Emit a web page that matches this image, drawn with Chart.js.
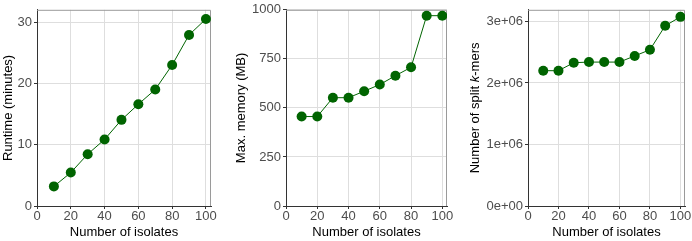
<!DOCTYPE html>
<html>
<head>
<meta charset="utf-8">
<script src="https://cdn.jsdelivr.net/npm/chart.js@4.4.1/dist/chart.umd.min.js"></script>
<style>
  html, body { margin: 0; padding: 0; background: #fff; }
  #wrap { position: relative; width: 692px; height: 241px; }
  canvas { position: absolute; top: 0; }
</style>
</head>
<body>
<div id="wrap">
  <canvas id="runtimeChart" width="230" height="241" style="left:0px"></canvas>
  <canvas id="memoryChart" width="230" height="241" style="left:230px"></canvas>
  <canvas id="kmerChart" width="232" height="241" style="left:460px"></canvas>
</div>
<script>
// Du lieu doc tu hinh
const isolates = [10, 20, 30, 40, 50, 60, 70, 80, 90, 100];
const runtimeMinutes = [3.2, 5.45, 8.45, 10.85, 14.05, 16.6, 19.0, 23.0, 27.9, 30.5];
const memoryMB = [456, 456, 552, 552, 585, 619, 664, 707, 970, 970];
const splitKmers = [2.2e6, 2.2e6, 2.33e6, 2.34e6, 2.34e6, 2.34e6, 2.44e6, 2.54e6, 2.93e6, 3.075e6];

const xTicks = [0, 20, 40, 60, 80, 100];
const runtimeTicks = [0, 10, 20, 30];
const memoryTicks = [0, 250, 500, 750, 1000];
const kmerTicks = [0, 1e6, 2e6, 3e6];

const FONT = "'Liberation Sans', Arial, sans-serif";
const GREEN = "#006400";
const GRID = "#dedede";
const AXIS = "#333333";

// khung xam o tren va ben phai
const framePlugin = {
  id: "frame",
  beforeDatasetsDraw(chart) {
    const a = chart.chartArea;
    const ctx = chart.ctx;
    ctx.save();
    ctx.strokeStyle = "#9a9a9a";
    ctx.lineWidth = 1;
    ctx.beginPath();
    ctx.moveTo(a.left, a.top + 0.5);
    ctx.lineTo(a.right - 0.5, a.top + 0.5);
    ctx.lineTo(a.right - 0.5, a.bottom);
    ctx.stroke();
    ctx.restore();
  },
};

// tieu de truc y co chu k in nghieng
const italicTitlePlugin = {
  id: "italicTitle",
  afterDraw(chart, args, opts) {
    if (!opts.parts) return;
    const ctx = chart.ctx;
    const a = chart.chartArea;
    ctx.save();
    const fontFor = (it) => (it ? "italic " : "") + "13px " + FONT;
    let total = 0;
    opts.parts.forEach((p) => {
      ctx.font = fontFor(p[1]);
      total += ctx.measureText(p[0]).width;
    });
    ctx.translate(opts.x, (a.top + a.bottom) / 2);
    ctx.rotate(-Math.PI / 2);
    ctx.fillStyle = "#000";
    ctx.textBaseline = "middle";
    ctx.textAlign = "left";
    let pos = -total / 2;
    opts.parts.forEach((p) => {
      ctx.font = fontFor(p[1]);
      ctx.fillText(p[0], pos, 0);
      pos += ctx.measureText(p[0]).width;
    });
    ctx.restore();
  },
};

function makePanel(canvasId, values, yTicks, cfg) {
  const canvas = document.getElementById(canvasId);
  const points = isolates.map((x, i) => ({ x: x, y: values[i] }));

  return new Chart(canvas, {
    type: "line",
    data: {
      datasets: [
        {
          data: points,
          borderColor: GREEN,
          backgroundColor: GREEN,
          borderWidth: 1,
          pointRadius: 5,
          pointHoverRadius: 5,
          pointBorderWidth: 0,
          tension: 0,
        },
      ],
    },
    options: {
      responsive: false,
      animation: false,
      events: [],
      layout: {
        padding: { left: cfg.padLeft, right: cfg.padRight, top: 7, bottom: 0 },
      },
      plugins: {
        legend: { display: false },
        tooltip: { enabled: false },
        italicTitle: cfg.titleParts ? { parts: cfg.titleParts, x: cfg.titleX } : {},
      },
      scales: {
        x: {
          type: "linear",
          min: 0,
          max: 103,
          afterBuildTicks: (scale) => {
            scale.ticks = xTicks.map((v) => ({ value: v }));
          },
          afterFit: (scale) => {
            scale.height = 35;
          },
          ticks: {
            color: "#4d4d4d",
            padding: 0,
            maxRotation: 0,
            font: { family: FONT, size: 13 },
          },
          grid: {
            color: GRID,
            lineWidth: 1,
            tickLength: 3,
            tickColor: AXIS,
          },
          border: { color: AXIS, width: 1 },
          title: {
            display: true,
            text: "Number of isolates",
            color: "#000",
            padding: { top: 0, bottom: 1 },
            font: { family: FONT, size: 13 },
          },
        },
        y: {
          type: "linear",
          min: 0,
          max: cfg.yMax,
          afterBuildTicks: (scale) => {
            scale.ticks = yTicks.map((v) => ({ value: v }));
          },
          afterFit: (scale) => {
            scale.width = cfg.axisWidth;
          },
          ticks: {
            color: "#4d4d4d",
            padding: 2,
            font: { family: FONT, size: 13 },
            callback: cfg.tickFormat || ((v) => v),
          },
          grid: {
            color: GRID,
            lineWidth: 1,
            tickLength: 3,
            tickColor: AXIS,
          },
          border: { color: AXIS, width: 1 },
          title: {
            display: !cfg.titleParts,
            text: cfg.title || "",
            color: "#000",
            padding: { top: 1, bottom: 0 },
            font: { family: FONT, size: 13 },
          },
        },
      },
    },
    plugins: [framePlugin, italicTitlePlugin],
  });
}

function sciLabel(v) {
  if (v === 0) return "0e+00";
  const exp = Math.floor(Math.log10(Math.abs(v)));
  const mant = Math.round(v / Math.pow(10, exp));
  return mant + "e+" + String(exp).padStart(2, "0");
}

makePanel("runtimeChart", runtimeMinutes, runtimeTicks, {
  yMax: 32,
  padLeft: 0,
  padRight: 19,
  axisWidth: 37,
  title: "Runtime (minutes)",
});

makePanel("memoryChart", memoryMB, memoryTicks, {
  yMax: 1000,
  padLeft: 2.5,
  padRight: 13,
  axisWidth: 53.5,
  title: "Max. memory (MB)",
});

makePanel("kmerChart", splitKmers, kmerTicks, {
  yMax: 3.19e6,
  padLeft: 7,
  padRight: 7,
  axisWidth: 61,
  titleParts: [["Number of split ", false], ["k", true], ["-mers", false]],
  titleX: 15.5,
  tickFormat: sciLabel,
});
</script>
</body>
</html>
